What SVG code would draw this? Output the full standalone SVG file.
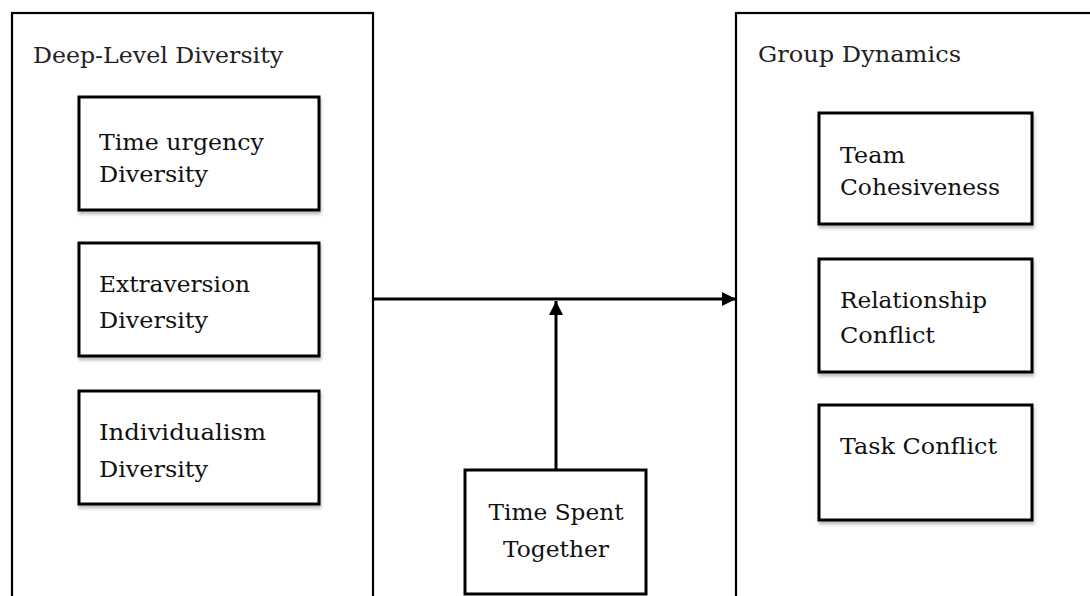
<svg xmlns="http://www.w3.org/2000/svg" width="1090" height="596" viewBox="0 0 1090 596">
<defs>
<filter id="sh" x="-10%" y="-10%" width="130%" height="130%">
<feGaussianBlur in="SourceAlpha" stdDeviation="1.5"/>
<feOffset dx="1" dy="3" result="b"/>
<feComponentTransfer><feFuncA type="linear" slope="0.25"/></feComponentTransfer>
<feMerge><feMergeNode/><feMergeNode in="SourceGraphic"/></feMerge>
</filter>
<marker id="arr" viewBox="0 0 10 10" refX="10" refY="5" markerWidth="14" markerHeight="14" markerUnits="userSpaceOnUse" orient="auto">
<path d="M0,0 L10,5 L0,10 z" fill="#000"/>
</marker>
</defs>
<style>
.outer{fill:#fff;stroke:#000;stroke-width:2.2}
.inner{fill:#fff;stroke:#000;stroke-width:3}
.t{font-family:"DejaVu Serif","Liberation Serif",serif;font-size:23px;fill:#111}
.title{font-family:"DejaVu Serif","Liberation Serif",serif;font-size:23px;fill:#222}
.conn{stroke:#000;stroke-width:3;fill:none}
</style>
<rect width="1090" height="596" fill="#fff"/>
<g id="deep-level-diversity">
<rect class="outer" x="12" y="13" width="361" height="600"/>
<text class="title" x="33" y="63" textLength="250" lengthAdjust="spacingAndGlyphs">Deep-Level Diversity</text>
</g>
<g id="time-urgency-diversity">
<rect class="inner" x="79" y="97" width="240" height="113" filter="url(#sh)"/>
<text class="t" x="99" y="150" textLength="165" lengthAdjust="spacingAndGlyphs">Time urgency</text>
<text class="t" x="99" y="182" textLength="109" lengthAdjust="spacingAndGlyphs">Diversity</text>
</g>
<g id="extraversion-diversity">
<rect class="inner" x="79" y="243" width="240" height="113" filter="url(#sh)"/>
<text class="t" x="99" y="292" textLength="151" lengthAdjust="spacingAndGlyphs">Extraversion</text>
<text class="t" x="99" y="328" textLength="109" lengthAdjust="spacingAndGlyphs">Diversity</text>
</g>
<g id="individualism-diversity">
<rect class="inner" x="79" y="391" width="240" height="113" filter="url(#sh)"/>
<text class="t" x="99" y="440" textLength="167" lengthAdjust="spacingAndGlyphs">Individualism</text>
<text class="t" x="99" y="477" textLength="109" lengthAdjust="spacingAndGlyphs">Diversity</text>
</g>
<g id="group-dynamics">
<rect class="outer" x="736" y="13" width="400" height="600"/>
<text class="title" x="758" y="62" textLength="203" lengthAdjust="spacingAndGlyphs">Group Dynamics</text>
</g>
<g id="team-cohesiveness">
<rect class="inner" x="819" y="113" width="213" height="111" filter="url(#sh)"/>
<text class="t" x="840" y="163" textLength="65" lengthAdjust="spacingAndGlyphs">Team</text>
<text class="t" x="840" y="195" textLength="160" lengthAdjust="spacingAndGlyphs">Cohesiveness</text>
</g>
<g id="relationship-conflict">
<rect class="inner" x="819" y="259" width="213" height="113" filter="url(#sh)"/>
<text class="t" x="840" y="308" textLength="147" lengthAdjust="spacingAndGlyphs">Relationship</text>
<text class="t" x="840" y="343" textLength="95" lengthAdjust="spacingAndGlyphs">Conflict</text>
</g>
<g id="task-conflict">
<rect class="inner" x="819" y="405" width="213" height="115" filter="url(#sh)"/>
<text class="t" x="840" y="454" textLength="157" lengthAdjust="spacingAndGlyphs">Task Conflict</text>
</g>
<g id="time-spent-together">
<rect class="inner" x="465" y="470" width="181" height="124"/>
<text class="t" x="556" y="520" text-anchor="middle" textLength="135" lengthAdjust="spacingAndGlyphs">Time Spent</text>
<text class="t" x="556" y="557" text-anchor="middle" textLength="106" lengthAdjust="spacingAndGlyphs">Together</text>
</g>
<g id="connectors">
<line class="conn" x1="373" y1="299" x2="736" y2="299" marker-end="url(#arr)"/>
<line class="conn" x1="556" y1="470" x2="556" y2="301" marker-end="url(#arr)"/>
</g>
</svg>
